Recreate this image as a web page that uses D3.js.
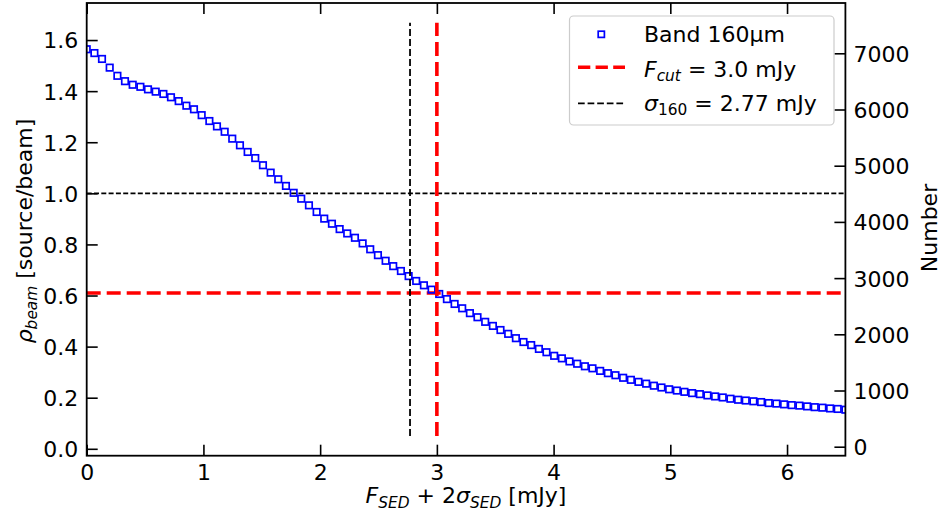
<!DOCTYPE html>
<html>
<head>
<meta charset="utf-8">
<script src="https://cdn.jsdelivr.net/npm/d3@7"></script>
<style>
html,body{margin:0;padding:0;background:#fff;}
svg{display:block;}
text{font-family:"DejaVu Sans",sans-serif;fill:#000;}
</style>
</head>
<body>
<svg id="chart" width="941" height="523"></svg>
<script>
// ---------- data ----------
const fluxValues = [0,0.066,0.131,0.197,0.263,0.328,0.394,0.460,0.525,0.591,0.657,0.722,0.788,0.854,0.919,0.985,1.051,1.116,1.182,1.247,1.313,1.379,1.444,1.510,1.576,1.641,1.707,1.773,1.838,1.904,1.970,2.035,2.101,2.167,2.232,2.298,2.364,2.429,2.495,2.561,2.626,2.692,2.758,2.823,2.889,2.955,3.020,3.086,3.152,3.217,3.283,3.348,3.414,3.480,3.545,3.611,3.677,3.742,3.808,3.874,3.939,4.005,4.071,4.136,4.202,4.268,4.333,4.399,4.465,4.530,4.596,4.662,4.727,4.793,4.859,4.924,4.990,5.056,5.121,5.187,5.253,5.318,5.384,5.449,5.515,5.581,5.646,5.712,5.778,5.843,5.909,5.975,6.040,6.106,6.172,6.237,6.303,6.369,6.434,6.500];
const rhoBeam = [1.564,1.549,1.526,1.492,1.460,1.439,1.425,1.417,1.407,1.398,1.389,1.376,1.361,1.343,1.329,1.306,1.283,1.262,1.241,1.214,1.188,1.162,1.138,1.110,1.081,1.055,1.029,1.002,
0.979,0.953,0.927,0.901,0.881,0.860,0.843,0.826,0.804,0.781,0.758,0.736,0.715,0.696,0.676,0.657,0.640,0.623,0.606,0.586,0.567,0.550,0.531,0.515,0.497,0.481,0.465,0.450,0.433,0.418,
0.406,0.391,0.378,0.364,0.354,0.342,0.333,0.323,0.315,0.305,0.296,0.288,0.278,0.270,0.262,0.255,0.247,0.240,0.233,0.228,0.223,0.218,0.214,0.209,0.205,0.201,0.196,0.192,0.189,0.186,0.183,0.179,0.177,0.174,0.171,0.169,0.166,0.163,0.161,0.158,0.156,0.153];
const xTicks = [0,1,2,3,4,5,6];
const yTicks = [0.0,0.2,0.4,0.6,0.8,1.0,1.2,1.4,1.6];
const numberTicks = [0,1000,2000,3000,4000,5000,6000,7000];
const xDomain = [0,6.5];
const yDomain = [-0.027,1.745];
const numberDomain = [-160,7895];
const fCut = 3.0;          // mJy
const sigma160 = 2.77;     // mJy
const rhoCut = 0.61;       // rho at F_cut
const rhoUnity = 1.0;
const vlineSpan = [0.05,1.668];

// ---------- layout ----------
const m={left:86.7,right:845.4,top:3,bottom:455.7};
const svg=d3.select("#chart");
const x=d3.scaleLinear().domain(xDomain).range([m.left,m.right]);
const y=d3.scaleLinear().domain(yDomain).range([m.bottom,m.top]);
const yR=d3.scaleLinear().domain(numberDomain).range([m.bottom,m.top]);

const FS=22;
const plot=svg.append("g");

svg.append("defs").append("clipPath").attr("id","clip").append("rect")
  .attr("x",m.left).attr("y",m.top).attr("width",m.right-m.left).attr("height",m.bottom-m.top);

const g=plot.append("g").attr("clip-path","url(#clip)");

// horizontal reference lines
g.append("line").attr("x1",x(xDomain[0])).attr("x2",x(xDomain[1]))
  .attr("y1",y(rhoUnity)).attr("y2",y(rhoUnity))
  .attr("stroke","#000").attr("stroke-width",1.6).attr("stroke-dasharray","5,2.3");
g.append("line").attr("x1",x(xDomain[0])).attr("x2",x(xDomain[1]))
  .attr("y1",y(rhoCut)).attr("y2",y(rhoCut))
  .attr("stroke","#ff0000").attr("stroke-width",3.6).attr("stroke-dasharray","14,6");

// markers
g.selectAll("rect.pt").data(fluxValues.map((f,i)=>[f,rhoBeam[i]])).enter().append("rect")
  .attr("class","pt")
  .attr("x",d=>x(d[0])-3.25).attr("y",d=>y(d[1])-3.25)
  .attr("width",6.5).attr("height",6.5)
  .attr("fill","none").attr("stroke","#0000ff").attr("stroke-width",1.7);

// vertical lines
g.append("line").attr("x1",x(sigma160)).attr("x2",x(sigma160))
  .attr("y1",y(vlineSpan[0])).attr("y2",y(vlineSpan[1]))
  .attr("stroke","#000").attr("stroke-width",1.8).attr("stroke-dasharray","7,3");
g.append("line").attr("x1",x(fCut)).attr("x2",x(fCut))
  .attr("y1",y(vlineSpan[0])).attr("y2",y(vlineSpan[1]))
  .attr("stroke","#ff0000").attr("stroke-width",3.6).attr("stroke-dasharray","14,6");

// axes
function styleAxis(a){
  a.select(".domain").remove();
  a.selectAll(".tick line").attr("stroke","#000").attr("stroke-width",1.6);
  a.selectAll(".tick text").attr("font-size",FS).attr("font-family","DejaVu Sans").attr("fill","#000");
}
const fmt1=d3.format(".1f");
const ax=svg.append("g").attr("transform",`translate(0,${m.bottom})`)
  .call(d3.axisBottom(x).tickValues(xTicks).tickFormat(d3.format("d")).tickSizeInner(-11).tickSizeOuter(0).tickPadding(9));
styleAxis(ax);
const axTop=svg.append("g").attr("transform",`translate(0,${m.top})`)
  .call(d3.axisTop(x).tickValues(xTicks).tickFormat("").tickSizeInner(-11).tickSizeOuter(0));
styleAxis(axTop);
const ayl=svg.append("g").attr("transform",`translate(${m.left},0)`)
  .call(d3.axisLeft(y).tickValues(yTicks).tickFormat(fmt1).tickSizeInner(-11).tickSizeOuter(0).tickPadding(8.5));
styleAxis(ayl);
ayl.selectAll(".tick text").attr("dy","0.36em");
const ayr=svg.append("g").attr("transform",`translate(${m.right},0)`)
  .call(d3.axisRight(yR).tickValues(numberTicks).tickFormat(d3.format("d")).tickSizeInner(-11).tickSizeOuter(0).tickPadding(8));
styleAxis(ayr);
ayr.selectAll(".tick text").attr("dy","0.36em");

// frame
svg.append("rect").attr("x",m.left).attr("y",m.top).attr("width",m.right-m.left).attr("height",m.bottom-m.top)
  .attr("fill","none").attr("stroke","#000").attr("stroke-width",1.8);

// rich text helper
function rich(sel,parts,sub){
  let shifted=false;
  parts.forEach(p=>{
    const t=sel.append("tspan").text(p.t);
    if(p.i) t.attr("font-style","italic");
    if(p.s){ t.attr("font-size",FS*0.7); if(!shifted){t.attr("dy",sub);shifted=true;} }
    else { if(shifted){t.attr("dy",-sub);shifted=false;} }
  });
}

// x label
const xl=svg.append("text").attr("x",(m.left+m.right)/2).attr("y",503).attr("text-anchor","middle").attr("font-size",FS);
rich(xl,[{t:"F",i:1},{t:"SED",i:1,s:1},{t:" + 2"},{t:"σ",i:1},{t:"SED",i:1,s:1},{t:" [mJy]"}],4.5);

// y label
const yl=svg.append("text").attr("transform",`translate(32,231) rotate(-90)`).attr("text-anchor","middle").attr("font-size",FS);
rich(yl,[{t:"ρ",i:1},{t:"beam",i:1,s:1},{t:" [source/beam]"}],4.5);

// right label
svg.append("text").attr("transform",`translate(936.5,228) rotate(-90)`).attr("text-anchor","middle").attr("font-size",FS).text("Number");

// legend
const lg=svg.append("g");
lg.append("rect").attr("x",569.5).attr("y",16).attr("width",264.5).attr("height",109).attr("rx",4)
  .attr("fill","#fff").attr("fill-opacity",0.85).attr("stroke","#cccccc").attr("stroke-width",1.2);
lg.append("rect").attr("x",598.2).attr("y",31.2).attr("width",6.2).attr("height",6.2)
  .attr("fill","none").attr("stroke","#0000ff").attr("stroke-width",1.7);
lg.append("text").attr("x",644).attr("y",42.3).attr("font-size",FS).text("Band 160μm");
lg.append("line").attr("x1",578).attr("x2",625).attr("y1",67.3).attr("y2",67.3)
  .attr("stroke","#ff0000").attr("stroke-width",3.6).attr("stroke-dasharray","12.3,5.3");
const t2=lg.append("text").attr("x",644).attr("y",76.7).attr("font-size",FS);
rich(t2,[{t:"F",i:1},{t:"cut",i:1,s:1},{t:" = 3.0 mJy"}],4.5);
lg.append("line").attr("x1",578).attr("x2",625).attr("y1",103.3).attr("y2",103.3)
  .attr("stroke","#000").attr("stroke-width",1.8).attr("stroke-dasharray","6.7,2.9");
const t3=lg.append("text").attr("x",644).attr("y",110.5).attr("font-size",FS);
rich(t3,[{t:"σ",i:1},{t:"160",s:1},{t:" = 2.77 mJy"}],4.5);
</script>
</body>
</html>
